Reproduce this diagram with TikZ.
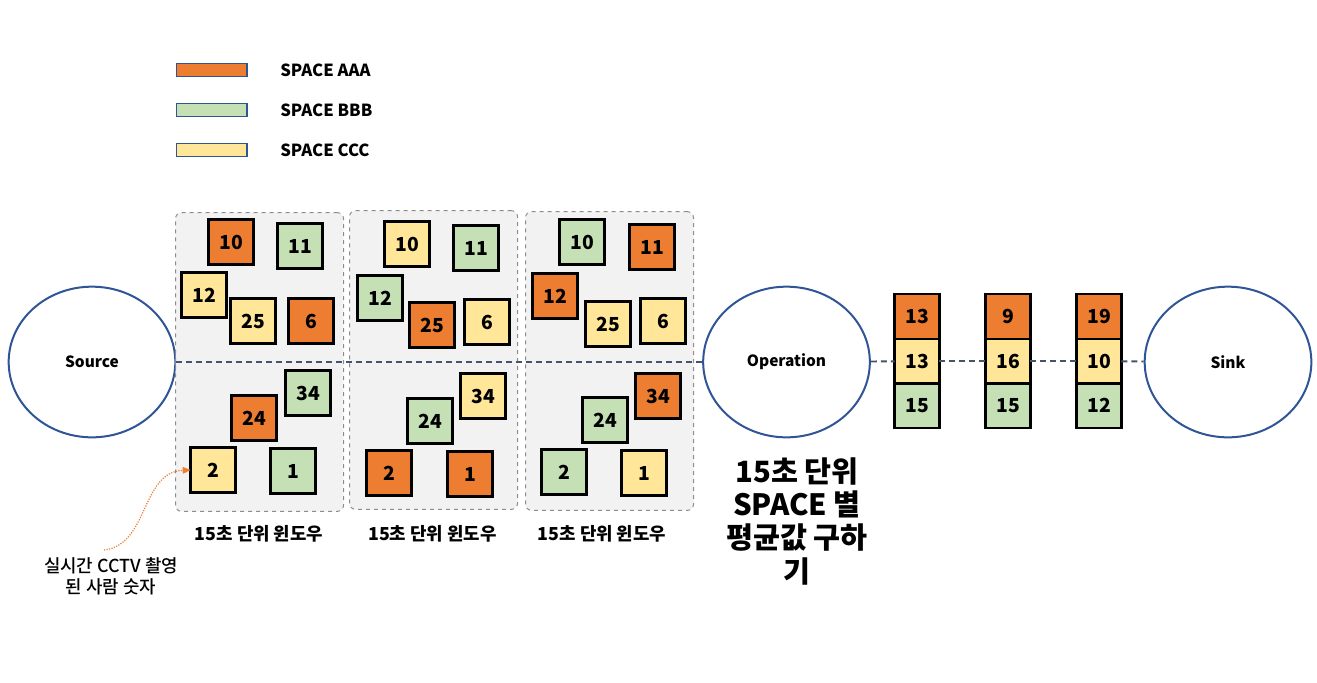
\documentclass[tikz,border=0pt]{standalone}
\usepackage{fontspec}
\setmainfont{Noto Sans CJK KR}
\newfontfamily\moyen{Noto Sans CJK KR Medium}
\usepackage{xcolor}
\usepackage{tikz}
\usetikzlibrary{shapes.geometric,positioning,arrows.meta}

\definecolor{orangeA}{HTML}{ED7D31}
\definecolor{vertB}{HTML}{C5E0B4}
\definecolor{jauneC}{HTML}{FFE699}
\definecolor{bleuE}{HTML}{2F5597}
\definecolor{ardoise}{HTML}{44546A}
\definecolor{fondF}{HTML}{F2F2F2}
\definecolor{grisF}{HTML}{8C8C8C}

\tikzset{
  carre/.style={draw=black, line width=1.8pt, outer sep=0pt, minimum width=33.5pt,
    minimum height=33.5pt, inner sep=0pt, font=\bfseries\fontsize{14.5}{16}\selectfont},
  legende/.style={draw=bleuE, line width=1pt, minimum width=53pt, minimum height=10pt, inner sep=0pt},
  etiq/.style={anchor=west, inner sep=0pt, font=\bfseries\fontsize{12.5}{14}\selectfont},
  fenetre/.style={draw=grisF, fill=fondF, dashed, line width=0.75pt, rounded corners=4.5pt,
    minimum width=126pt, minimum height=224pt},
  bulle/.style={ellipse, draw=bleuE, fill=white, line width=1.5pt, minimum width=125pt,
    minimum height=113pt, font=\bfseries\fontsize{11.6}{13}\selectfont},
  lien/.style={draw=ardoise, line width=1.4pt, dash pattern=on 4.5pt off 3pt},
  titre/.style={font=\bfseries\fontsize{13.4}{15}\selectfont},
  fleche/.style={draw=orangeA, densely dotted, line width=0.9pt, -{Triangle[length=6pt,width=5pt,fill=orangeA]}}
}

\begin{document}
\begin{tikzpicture}[x=0.75pt,y=-0.75pt]
\useasboundingbox (0,0) rectangle (1317,682);

%% legende
\node[legende, fill=orangeA] (legA) at (211.5,70) {};
\node[legende, fill=vertB] (legB) at (211.5,110) {};
\node[legende, fill=jauneC] (legC) at (211.5,150) {};
\node[etiq] (txtA) at (280,70) {SPACE AAA};
\node[etiq] (txtB) at (280,110) {SPACE BBB};
\node[etiq] (txtC) at (280,150) {SPACE CCC};

%% source, operation, sink
\node[bulle] (source) at (92,362) {Source};
\node[bulle] (operation) at (786.5,362) {Operation};
\node[bulle] (sink) at (1228,362) {Sink};

%% fenetres de 15 s
\node[fenetre] (f1) at (259.5,362) {};
\node[fenetre] (f2) at (433.5,360) {};
\node[fenetre] (f3) at (609.5,361) {};

\draw[lien] (source) -- (operation);

%% valeurs de chaque fenetre
\foreach \x/\y/\c/\v in {231/242/orangeA/10, 300/246/vertB/11, 204/295/jauneC/12,
  253/321/jauneC/25, 311/321/orangeA/6, 308/393/vertB/34, 254/418/orangeA/24,
  213/470/jauneC/2, 293/471/vertB/1}
  \node[carre, fill=\c] (f1-\v) at (\x,\y) {\v};
\foreach \x/\y/\c/\v in {407/244/jauneC/10, 476/248/vertB/11, 380/298/vertB/12,
  432/325/orangeA/25, 487/322/jauneC/6, 483/396/jauneC/34, 430/421/vertB/24,
  389/473/orangeA/2, 470/474/orangeA/1}
  \node[carre, fill=\c] (f2-\v) at (\x,\y) {\v};
\foreach \x/\y/\c/\v in {582/242/vertB/10, 652/247/orangeA/11, 555/296/orangeA/12,
  608/324/jauneC/25, 663/321/jauneC/6, 658/396/orangeA/34, 605/420/vertB/24,
  564/472/vertB/2, 644/473/jauneC/1}
  \node[carre, fill=\c] (f3-\v) at (\x,\y) {\v};

\node[titre] (t1) at (259,534) {15초 단위 윈도우};
\node[titre] (t2) at (432.5,534) {15초 단위 윈도우};
\node[titre] (t3) at (602,534) {15초 단위 윈도우};

%% moyennes par SPACE
\foreach \s/\x/\a/\b/\d in {1/917/13/13/15, 2/1008/9/16/15, 3/1099/19/10/12} {
  \node[carre, fill=orangeA] (p\s-1) at (\x,316.5) {\a};
  \node[carre, fill=jauneC, below=0pt of p\s-1] (p\s-2) {\b};
  \node[carre, fill=vertB, below=0pt of p\s-2] (p\s-3) {\d};
}

\draw[lien] (operation) -- (p1-2);
\draw[lien] (p1-2) -- (p2-2);
\draw[lien] (p2-2) -- (p3-2);
\draw[lien] (p3-2) -- (sink);

\node[align=center, font=\bfseries\fontsize{22}{25}\selectfont] (calcul) at (797,521)
  {15초 단위\\SPACE 별\\평균값 구하\\기};

%% note CCTV
\node[align=center, font=\moyen\fontsize{13.4}{16}\selectfont] (note) at (111,576.5)
  {실시간 CCTV 촬영\\된 사람 숫자};
\coordinate (depart) at (104,550);
\draw[fleche] (depart) .. controls +(45,-5) and +(-50,2) .. (f1-2.west);

\end{tikzpicture}
\end{document}
